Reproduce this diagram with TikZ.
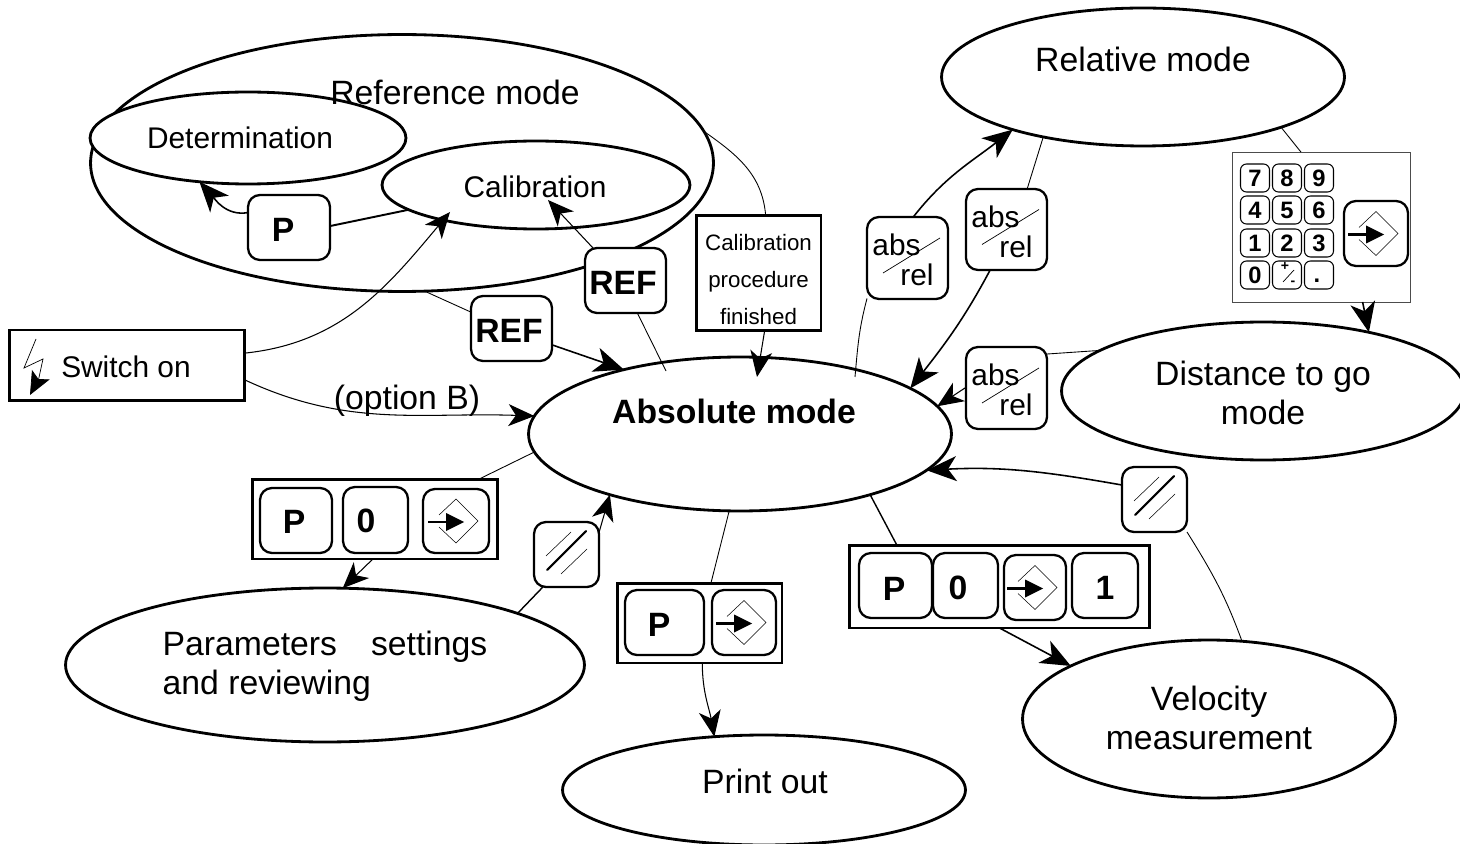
\documentclass[tikz,border=0pt]{standalone}
\usepackage{fontspec}
\setmainfont{Liberation Sans}
\usetikzlibrary{arrows.meta,shapes.geometric}

\newcommand{\modefont}{\fontsize{19.2}{22.2}\selectfont}
\newcommand{\midfont}{\fontsize{17}{20}\selectfont}
\newcommand{\boxfont}{\fontsize{12.7}{21}\selectfont}
\newcommand{\padfont}{\fontsize{13.5}{15}\selectfont\bfseries}

% symbol of the enter key, drawn round the centre of a key
\newcommand{\entersign}[1]{%
  \begin{scope}[shift={(#1)}]
    \draw[line width=0.3pt] (-17,-6) -- (0,-22) -- (22,0) -- (0,22) -- (-17,6);
    \draw[line width=1.2pt] (-28,1) -- (-8,1);
    \fill (-10,-8) -- (8,1) -- (-10,10) -- cycle;
  \end{scope}}
% symbol of the clear key
\newcommand{\clearsign}[1]{%
  \begin{scope}[shift={(#1)}]
    \draw[line width=1.2pt, line cap=round] (-19.5,15.5) -- (19.5,-23.5);
    \draw[line width=0.3pt] (-20.5,1.5) -- (4.5,-22.5);
    \draw[line width=0.3pt] (-5.5,19.5) -- (20.5,-5.5);
  \end{scope}}
% labels of the abs/rel key
\newcommand{\absrel}[1]{%
  \node[font=\midfont] (#1abs) at ([shift={(-11,-13)}]#1) {abs};
  \node[font=\midfont] (#1rel) at ([shift={(9.5,17)}]#1) {rel};
  \draw[line width=0.4pt] ([shift={(-24.5,15)}]#1.center) -- ([shift={(32.5,-20)}]#1.center);}

\begin{document}
\begin{tikzpicture}[x=0.02cm, y=-0.02cm,
    every node/.style={inner sep=0pt, outer sep=0pt},
    modeshape/.style 2 args={ellipse, draw, fill=white, line width=1.6pt, minimum width=#1, minimum height=#2},
    framebox/.style 2 args={rectangle, draw, fill=white, line width=1.7pt, minimum width=#1, minimum height=#2},
    keycap/.style 2 args={rectangle, draw, fill=white, line width=1.3pt, rounded corners=0.24cm, minimum width=#1, minimum height=#2},
    keylabel/.style={font=\modefont\bfseries},
    padkey/.style={rectangle, draw, fill=white, line width=0.6pt, rounded corners=0.12cm, minimum width=0.58cm, minimum height=0.56cm, font=\padfont},
    flow/.style={line width=0.9pt, -{Stealth[length=0.6cm, width=0.5cm, inset=0.17cm]}},
    thinflow/.style={line width=0.6pt, -{Stealth[length=0.52cm, width=0.44cm, inset=0.15cm]}},
    link/.style={line width=0.5pt}]
      \useasboundingbox (0,0) rectangle (1460,844);

      % Modes
      \node[modeshape={12.46cm}{5.14cm}] (reference) at (402,163) {};
      \node[modeshape={6.32cm}{1.84cm}] (determination) at (248,138) {};
      \node[modeshape={6.16cm}{1.76cm}] (calibration) at (536,185) {};
      \node[modeshape={8.06cm}{2.76cm}] (relative) at (1143,77) {};
      \node[modeshape={8.06cm}{2.76cm}] (distance) at (1263,391) {};
      \node[modeshape={8.46cm}{3.08cm}] (absolute) at (740,434) {};
      \node[modeshape={10.38cm}{3.08cm}] (parameters) at (325,665) {};
      \node[modeshape={7.46cm}{3.16cm}] (velocity) at (1209,719) {};
      \node[modeshape={8.06cm}{2.2cm}] (printout) at (764,790) {};

      % Mode labels
      \node[font=\modefont] (referencetext) at (455,92) {Reference mode};
      \node[font=\midfont] (determinationtext) at (240,138) {Determination};
      \node[font=\midfont] (calibrationtext) at (535,187) {Calibration};
      \node[font=\modefont] (relativetext) at (1143,59) {Relative mode};
      \node[font=\modefont, align=center] (distancetext) at (1263,393) {Distance to go\\mode};
      \node[font=\modefont\bfseries] (absolutetext) at (734,411) {Absolute mode};
      \node[font=\modefont, align=left] (parameterstext) at (325,666) {Parameters\hspace{0.68cm}settings\\and reviewing};
      \node[font=\modefont, align=center] (velocitytext) at (1209,718) {Velocity\\measurement};
      \node[font=\modefont] (printouttext) at (765,781) {Print out};
      \node[font=\modefont] (optionb) at (407,401) {(option B)};

      % Frames
      \node[framebox={4.72cm}{1.42cm}] (switchon) at (127,365.5) {};
      \node[font=\midfont] (switchtext) at (126,367) {Switch on};
      \node[framebox={2.5cm}{2.32cm}] (finished) at (758.5,273) {};
      \node[font=\boxfont, align=center] (finishedtext) at (758.5,279.5) {Calibration\\procedure\\finished};
      \node[rectangle, draw=black!70, fill=white, line width=0.5pt, minimum width=3.56cm, minimum height=3cm] (keypad) at (1321,227) {};
      \node[framebox={4.92cm}{1.6cm}] (paramkeys) at (375,519) {};
      \node[framebox={3.3cm}{1.6cm}] (printkeys) at (699.5,623) {};
      \node[framebox={6.02cm}{1.66cm}] (velocitykeys) at (999.5,586.5) {};

      % Keys
      \node[keycap={1.64cm}{1.3cm}] (pkey) at (289,227.5) {};
      \node[keylabel] (pkeytext) at (283,230) {P};
      \node[keycap={1.62cm}{1.3cm}] (refleft) at (511.5,328.5) {};
      \node[keylabel] (reflefttext) at (509,331) {REF};
      \node[keycap={1.62cm}{1.3cm}] (refright) at (625.5,280.5) {};
      \node[keylabel] (refrighttext) at (623,283) {REF};
      \node[keycap={1.62cm}{1.64cm}] (absa) at (907.5,258) {};
      \node[keycap={1.62cm}{1.62cm}] (absb) at (1006.5,229.5) {};
      \node[keycap={1.62cm}{1.64cm}] (absc) at (1006.5,388) {};
      \absrel{absa}
      \absrel{absb}
      \absrel{absc}
      \node[keycap={1.3cm}{1.3cm}] (clearleft) at (566.5,554.5) {};
      \node[keycap={1.3cm}{1.3cm}] (clearright) at (1154.5,499.5) {};
      \clearsign{clearleft}
      \clearsign{clearright}

      \node[keycap={1.44cm}{1.3cm}] (paramp) at (296,520.5) {};
      \node[keylabel] (paramptext) at (294,522) {P};
      \node[keycap={1.3cm}{1.32cm}] (paramzero) at (375.5,520) {};
      \node[keylabel] (paramzerotext) at (366,521) {0};
      \node[keycap={1.32cm}{1.28cm}] (paramenter) at (456,521) {};
      \entersign{paramenter}
      \node[keycap={1.58cm}{1.3cm}] (printp) at (664.5,622.5) {};
      \node[keylabel] (printptext) at (659,625) {P};
      \node[keycap={1.28cm}{1.3cm}] (printenter) at (744,622.5) {};
      \entersign{printenter}
      \node[keycap={1.46cm}{1.3cm}] (velocityp) at (895.5,585.5) {};
      \node[keylabel] (velocityptext) at (894,589) {P};
      \node[keycap={1.3cm}{1.3cm}] (velocityzero) at (965.5,585.5) {};
      \node[keylabel] (velocityzerotext) at (958,588) {0};
      \node[keycap={1.24cm}{1.3cm}] (velocityenter) at (1035,587.5) {};
      \entersign{velocityenter}
      \node[keycap={1.32cm}{1.3cm}] (velocityone) at (1105,585.5) {};
      \node[keylabel] (velocityonetext) at (1105,588) {1};

      % Keypad
      \foreach \lab/\cx/\cy in {7/1255/178, 8/1287/178, 9/1319/178, 4/1255/210, 5/1287/210, 6/1319/210, 1/1255/243, 2/1287/243, 3/1319/243, 0/1255/275}
        \node[padkey] (digit\lab) at (\cx,\cy) {\lab};
      \node[padkey] (signkey) at (1287,275) {};
      \node[padkey] (pointkey) at (1319,275) {};
      \node[font=\padfont] (pointtext) at (1317,281) {.};
      \node[font=\fontsize{8}{9}\selectfont\bfseries] (plus) at (1285,266) {+};
      \node[font=\fontsize{8}{9}\selectfont\bfseries] (minus) at (1293,283) {-};
      \draw[line width=0.4pt] (1283,282) -- (1294,270);
      \node[keycap={1.28cm}{1.3cm}] (padenter) at (1376,233.5) {};
      \entersign{padenter}

      % Lightning sign
      \coordinate (bolttip) at (30,395);
      \draw[line width=0.4pt] (36,339) -- (24,368) -- (43,359) -- (38,382);
      \draw[line width=0.4pt, -{Stealth[length=0.46cm, width=0.4cm, inset=0.1cm]}] (38,380) -- (bolttip);

      % Points inside the ellipses
      \coordinate (calibrationtip) at (548,200);
      \coordinate (switchtip) at (450,212);
      \coordinate (absolutetip) at (757,377);
      \coordinate (absolutestub) at (855,377);
      \coordinate (reftip) at (666,371);

      % Edges
      \draw[thinflow] (switchon.6) to[out=6, in=230] (switchtip);
      \draw[thinflow] (switchon.-7.5) to[out=-25, in=178] (absolute.175);
      \draw[link] (reference.-80) -- (refleft.158);
      \draw[flow] (refleft.-22) -- (absolute.151);
      \draw[thinflow] (refright.135) -- (calibrationtip);
      \draw[link] (refright.-70.5) -- (reftip);
      \draw[link] (reference.6.7) to[out=-35, in=95] (finished.83.6);
      \draw[thinflow] (finished.-84.6) -- (absolutetip);
      \draw[link, line width=1.1pt] (calibration.191.8) -- (pkey.2);
      \draw[flow] (pkey.160.5) to[out=190, in=-48] (determination.222);
      \draw[link] (absolutestub) to[out=85, in=-105] (absa.225);
      \draw[flow] (absa.82) to[out=52, in=218] (relative.202);
      \draw[link] (relative.211.5) -- (absb.63);
      \draw[flow] (absb.248) to[out=-118, in=52] (absolute.15.6);
      \draw[link] (distance.166.8) -- (absc.40);
      \draw[thinflow] (absc.179) -- (absolute.8.3);
      \draw[link] (relative.-20.6) -- (keypad.105.6);
      \draw[flow] (keypad.-61.3) -- (distance.29.6);
      \draw[link] (velocity.67.4) to[out=110, in=-58] (clearright.-45);
      \draw[flow] (clearright.156) to[out=170, in=3] (absolute.-11.2);
      \draw[link, line width=0.8pt] (absolute.-25.5) -- (velocitykeys.158);
      \draw[flow] (velocitykeys.-90) -- (velocity.159.4);
      \draw[link] (absolute.-98) -- (printkeys.74);
      \draw[thinflow] (printkeys.-86) to[out=-90, in=100] (printout.133);
      \draw[link] (absolute.-175.5) -- (paramkeys.21.2);
      \draw[thinflow] (paramkeys.-93) -- (parameters.77.4);
      \draw[link, line width=0.8pt] (parameters.15.7) -- (clearleft.234.7);
      \draw[thinflow] (clearleft.34.7) -- (absolute.205.3);
    \end{tikzpicture}
\end{document}
